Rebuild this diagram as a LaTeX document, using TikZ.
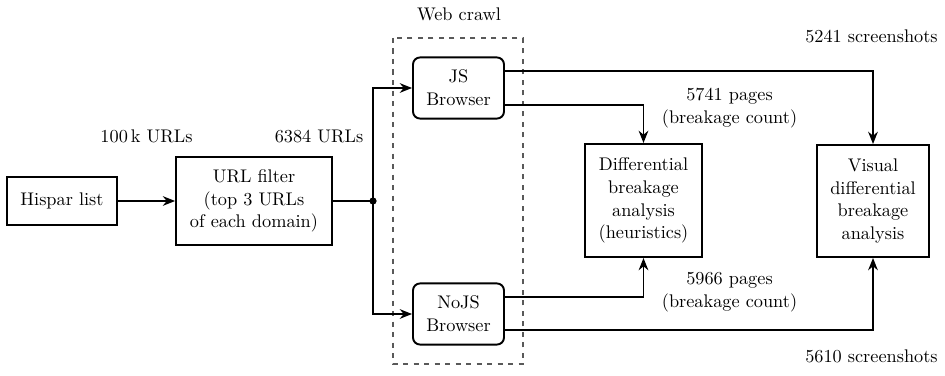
\documentclass[tikz,border=0pt]{standalone}
\usetikzlibrary{arrows.meta,calc}
\begin{document}
\begin{tikzpicture}[x=0.5714pt,y=-0.5714pt,
  every node/.style={font=\fontsize{10.45pt}{13pt}\selectfont},
  box/.style={draw,line width=1.1pt,align=center,inner sep=1pt},
  rbox/.style={box,rounded corners=4pt},
  conn/.style={line width=1.1pt,-{Stealth[length=7pt,width=5.5pt]}},
  line/.style={line width=1.1pt},
  lbl/.style={align=center,inner sep=0pt}]
\useasboundingbox (0,0) rectangle (945,376);
\node[box,minimum width=62.9pt,minimum height=27.4pt] (his) at (62,201) {Hispar list};
\node[box,minimum width=89.1pt,minimum height=50.3pt] (url) at (254,201) {URL filter\\(top 3 URLs\\of each domain)};
\node[rbox,minimum width=52pt,minimum height=34.9pt] (js) at (458.5,88) {JS\\Browser};
\node[rbox,minimum width=52pt,minimum height=34.9pt] (nojs) at (458.5,314) {NoJS\\Browser};
\node[box,minimum width=66.9pt,minimum height=64.6pt] (diff) at (643.5,200.5) {Differential\\breakage\\analysis\\(heuristics)};
\node[box,minimum width=64pt,minimum height=64pt] (vis) at (873,201) {Visual\\differential\\breakage\\analysis};
\draw[dashed,gray!70!black,line width=0.6pt] (393,38) rectangle (523,364);
\node[lbl] (wc) at (459,14) {Web crawl};
\node[lbl] (l100) at (146.5,136) {100\,k URLs};
\node[lbl] (l6384) at (319,136) {6384 URLs};
\node[lbl] (l5741) at (729.5,108) {5741 pages\\(breakage count)};
\node[lbl] (l5966) at (729.5,292) {5966 pages\\(breakage count)};
\node[lbl,anchor=east] (l5241) at (938,36) {5241 screenshots};
\node[lbl,anchor=east] (l5610) at (938,356) {5610 screenshots};
\coordinate (dot) at (373,201);
\draw[conn] (his) -- (url);
\draw[line] (url) -- (dot);
\fill (dot) circle (3.6);
\draw[conn] (dot) |- (js.west);
\draw[conn] (dot) |- (nojs.west);
\draw[conn] ($(js.east)+(0,-17)$) -| (vis.north);
\draw[conn] ($(js.east)+(0,17)$) -| (diff.north);
\draw[conn] ($(nojs.east)+(0,-17)$) -| (diff.south);
\draw[conn] ($(nojs.east)+(0,16)$) -| (vis.south);
\end{tikzpicture}
\end{document}
